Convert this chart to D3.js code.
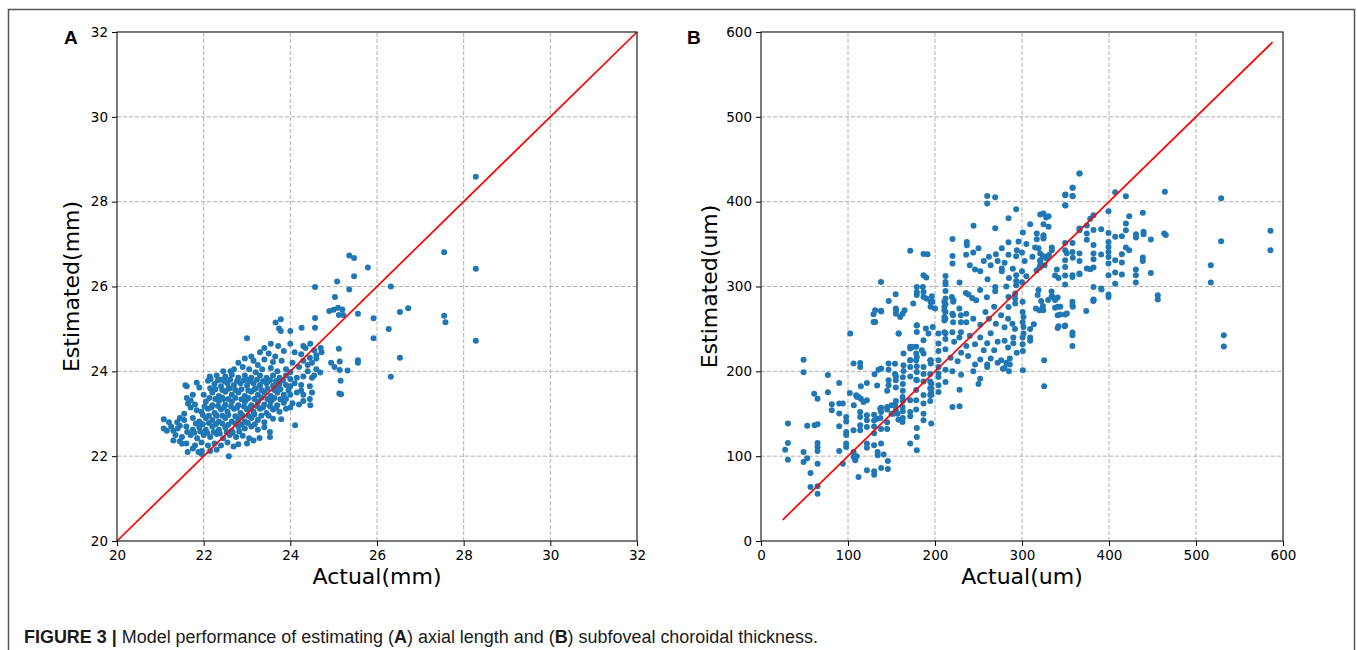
<!DOCTYPE html>
<html>
<head>
<meta charset="utf-8">
<script src="https://cdn.jsdelivr.net/npm/d3@7.9.0/dist/d3.min.js"></script>
<style>
  html, body { margin: 0; padding: 0; background: #fff; }
  svg { display: block; }
</style>
</head>
<body>
<svg id="fig" width="1357" height="650"></svg>
<script>
// ---- data: [actual, estimated] ----
const ticksA = [20, 22, 24, 26, 28, 30, 32];
const ticksB = [0, 100, 200, 300, 400, 500, 600];
const refLineA = [20, 32];
const refLineB = [25, 588];

const pointsA = [
  // sparse / outliers
  [28.28,28.59],[27.55,26.81],[28.28,26.42],[27.55,25.31],[27.58,25.16],[28.28,24.72],
  [25.36,26.73],[25.47,26.67],[25.79,26.45],[25.47,26.24],[25.08,26.12],[24.57,25.99],[26.32,26.0],[25.36,25.93],[25.03,25.75],[26.72,25.49],[26.53,25.4],
  [24.9,25.42],[25.0,25.45],[25.1,25.5],[25.2,25.46],[25.22,25.33],[25.12,25.33],
  [25.56,25.36],[25.92,25.25],[24.57,25.26],[26.27,25.0],
  [23.78,25.23],[23.66,25.15],[23.74,25.01],[23.78,24.95],[24.0,24.95],[24.26,25.03],[24.57,25.03],
  [25.92,24.78],[23.0,24.78],[26.53,24.32],[26.32,23.87],
  [25.56,24.26],[25.56,24.2],[25.32,24.02],[25.12,24.53],[25.14,24.23],[25.14,24.03],[25.16,23.78],[25.13,23.48],[25.17,23.46],[24.94,24.2],[25.02,24.1],
  [24.69,23.97],[24.46,23.2],[24.11,22.73],[23.79,22.87],[23.53,22.45],[23.53,22.57],[23.29,22.43],[23.15,22.37],
  [22.58,22.0],[22.69,22.23],
  [21.08,22.87],[21.08,22.65],[21.3,22.6],[21.3,22.37],[21.39,22.8],[21.5,22.29],[21.63,22.1],[21.61,23.65],[21.84,23.73],[21.61,23.37],[21.64,23.24],[21.7,23.31],[21.84,23.08],[21.88,22.1],[21.96,22.12],[22.14,23.88],[22.16,23.82],[22.62,24.0],
  [21.58,23.67],[21.45,22.9],[21.55,23.0],[21.7,23.15],[21.75,23.45],[22.1,23.78],
  // upper part of the cloud
  [23.55,24.65],[23.72,24.6],[24.0,24.65],[24.3,24.6],[24.46,24.65],[24.35,24.55],[23.4,24.55],[24.55,24.5],[24.7,24.55],[24.72,24.45],
  [23.3,24.45],[23.5,24.42],[23.85,24.48],[24.1,24.45],[24.25,24.4],[24.6,24.38],[23.1,24.35],[23.65,24.35],[24.45,24.32],
  [22.95,24.3],[23.15,24.25],[23.4,24.28],[23.6,24.22],[23.8,24.25],[24.05,24.2],[24.3,24.25],[24.5,24.2],[22.8,24.2],[23.25,24.15],[24.2,24.1],
  [22.7,24.05],[22.9,24.1],[23.05,24.05],[23.35,24.05],[23.55,24.08],[23.7,24.0],[23.9,24.05],[24.0,23.98],[24.4,24.0],[24.6,24.05],[22.45,24.0],[23.2,23.98],
  [22.3,23.9],[22.5,23.88],[22.65,23.92],[22.8,23.85],[22.95,23.9],[23.1,23.85],[23.3,23.9],[23.45,23.85],[23.6,23.9],[23.75,23.85],[23.9,23.9],[24.0,23.82],[24.15,23.85],[24.3,23.88],[24.5,23.85],[22.4,23.8],[23.0,23.8],[23.5,23.78],
  [21.9,23.62],[22.25,23.7],[22.4,23.65],[22.55,23.72],[22.7,23.68],[22.85,23.72],[23.0,23.66],[23.15,23.72],[23.3,23.68],[23.45,23.72],[23.6,23.66],[23.75,23.7],[23.9,23.68],[24.0,23.65],[24.1,23.72],[24.25,23.68],[24.45,23.65],[22.15,23.6],[22.6,23.6],[23.2,23.6],[23.7,23.6],
  [22.0,23.45],[22.2,23.5],[22.35,23.42],[22.5,23.52],[22.65,23.45],[22.8,23.5],[22.95,23.42],[23.1,23.52],[23.25,23.45],[23.4,23.5],[23.55,23.42],[23.7,23.5],[23.85,23.45],[24.0,23.45],[24.15,23.5],[24.3,23.45],[24.5,23.5],[22.45,23.35],[23.0,23.35],[23.6,23.35],[23.9,23.35],
  [21.8,23.22],[22.05,23.28],[22.2,23.2],[22.35,23.3],[22.5,23.22],[22.65,23.28],[22.8,23.2],[22.95,23.28],[23.1,23.2],[23.25,23.28],[23.4,23.22],[23.55,23.28],[23.7,23.2],[23.85,23.26],[24.05,23.25],[24.2,23.22],[24.0,23.15],
  [21.95,23.05],[22.1,23.12],[22.25,23.02],[22.4,23.1],[22.55,23.05],[22.7,23.12],[22.85,23.02],[23.0,23.1],[23.15,23.05],[23.3,23.12],[23.45,23.02],[23.6,23.1],[23.75,23.05],[23.9,23.12],[22.3,22.95],[22.9,22.95],[23.5,22.95],
  [21.55,22.85],[21.75,22.9],[21.9,22.82],[22.05,22.9],[22.2,22.85],[22.35,22.82],[22.5,22.9],[22.65,22.82],[22.8,22.88],[22.95,22.82],[23.1,22.9],[23.25,22.85],[23.4,22.8],[23.6,22.88],[21.2,22.8],[21.45,22.72],
  [21.25,22.7],[21.4,22.65],[21.6,22.7],[21.75,22.62],[21.9,22.68],[22.05,22.62],[22.2,22.7],[22.35,22.62],[22.5,22.68],[22.65,22.6],[22.8,22.7],[22.95,22.65],[23.1,22.7],[23.25,22.62],[23.4,22.68],[21.15,22.6],
  [21.35,22.5],[21.5,22.45],[21.7,22.5],[21.85,22.42],[22.0,22.5],[22.15,22.45],[22.3,22.52],[22.45,22.42],[22.6,22.5],[22.75,22.45],[22.9,22.48],[23.05,22.42],[21.45,22.35],
  [21.6,22.3],[21.8,22.25],[21.95,22.32],[22.1,22.25],[22.25,22.3],[22.4,22.25],[22.55,22.32],[22.8,22.28],[23.0,22.3],
  [21.75,22.18],[21.95,22.05],[22.15,22.12],[22.3,22.15],
  [24.3,23.3],[24.45,23.35],[24.55,23.9],[24.6,24.3],[24.4,24.15],[24.25,23.55],
  // filling the dense core
  [22.33,23.79],[22.49,23.76],[22.61,23.8],[22.77,23.77],[22.93,23.79],[23.07,23.76],[23.23,23.8],[23.37,23.77],[23.53,23.79],[23.67,23.77],[23.83,23.79],
  [22.27,23.58],[22.43,23.56],[22.57,23.59],[22.73,23.56],[22.87,23.58],[23.03,23.55],[23.17,23.58],[23.33,23.56],[23.47,23.59],[23.63,23.56],[23.77,23.58],[23.96,23.55],
  [22.13,23.37],[22.27,23.35],[22.43,23.38],[22.57,23.35],[22.73,23.37],[22.87,23.34],[23.03,23.37],[23.17,23.35],[23.33,23.38],[23.47,23.35],[23.63,23.37],[23.77,23.34],
  [22.02,23.17],[22.18,23.15],[22.33,23.18],[22.47,23.15],[22.63,23.17],[22.77,23.14],[22.93,23.17],[23.07,23.15],[23.23,23.18],[23.37,23.15],[23.53,23.17],[23.67,23.14],
  [21.98,22.97],[22.12,22.95],[22.28,22.98],[22.43,22.95],[22.57,22.97],[22.73,22.94],[22.87,22.97],[23.03,22.95],[23.17,22.98],[23.33,22.95],
  [21.82,22.77],[21.98,22.75],[22.12,22.78],[22.28,22.75],[22.43,22.77],[22.57,22.74],[22.73,22.77],[22.88,22.75],[23.02,22.78],[23.18,22.75],
  [21.62,22.57],[21.78,22.55],[21.92,22.58],[22.08,22.55],[22.23,22.57],[22.37,22.54],[22.53,22.57],[22.67,22.55],[22.82,22.58]
];

const pointsB = [
  // low values
  [27.8,107.7],[30.9,95.9],[30.9,115.5],[30.9,138.4],
  [48.9,213.8],[48.9,198.9],[48.9,104.9],[48.9,93.2],[53.1,97.5],[53.1,136],
  [56.9,80.2],[56.9,63.7],[61.5,136.4],[61.1,173.7],[65,167.8],[65,137.6],[65,115.6],[65,110.8],[65,106.1],[65,91.2],[65,64.5],[65,55.8],
  [76.9,195.8],[76.9,175.3],[81.4,161.2],[81.4,154.1],[89.9,186.3],[89.9,162],[89.9,150.2],[89.9,135.2],[89.9,106.1],[94.1,162],[94.1,91.2],
  [97.9,146.2],[97.9,141],[97.9,128.5],[97.9,125],[97.9,114.8],[97.9,110.8],
  [102.5,244.5],[102.1,174.5],[106.4,209.1],[106.7,160],[106.4,130.5],[106.4,104.9],[106.4,99],[108.3,95.1],[112.1,75.5],[110,170],[110,100],
  [114,209.9],[114,205.2],[114.8,182.4],[109.4,171.8],[112.1,169.8],[114.8,167.8],[117.8,163.9],[121.7,165.9],[121.7,186.3],
  [114,152.1],[114,146.2],[114,136.4],[114,130.5],[121.7,148.2],[121.7,142.3],[121.7,134.4],[121.7,83.3],[130.1,82.1],[130.1,78.2],[138.1,86.1],[145.8,84.9],[145.8,94.3],
  [121.7,115],[121.7,110],[130,113],[134,105],[138,115],[130,148.9],[130,142],[133.5,144],[137.3,145],[138,157],[138,152],[130,127],[130,135],[138,132],[145,140],[145,132],[141,102],[134,101],
  [130.5,196.5],[133.5,183.2],[138.1,203.2],[135,202],[146.6,209.1],[146.6,202],[146.6,189.5],[146.6,183.6],[155,194.2],[155,189.5],[155,180.8],
  [163.8,220.9],[163.8,207.1],[163.8,200.5],[158.1,244.5],[171.5,213],[171.5,226.8],[174.2,228.8],[179.1,217],[179.1,206],[179.1,199.3],[179.1,189.5],
  [179.1,254.3],[179.1,246.5],[189.5,250.4],[192.5,244.5],[186.8,236.6],[184.9,224.8],[186.8,220.9],[195.2,209.1],[195.2,213],[195.6,185.5],[195.6,180],[195.6,175],[195.6,172],
  [204,232.7],[204,213],[204,193.4],[204,183.6],[204,175.7],[162.7,169.8],[162.7,158],[155,154.1],[162.7,140.3],[171.5,152.1],[171.5,147],
  [179.1,133.2],[179.1,122.6],[179.1,106.9],[171.5,114.8],[186.8,142.3],[195.6,138.4],[150,160],[155,165],[145,158],[150,150],[158,143],
  [131.2,272],[131.2,258.3],[138.1,270.4],[155,274],[155,268],[160,264],[165,272],[175,280],[179,290],[190,286],[197,282],[200,274],
  [137.9,305.4],[154.8,290.9],[129.4,267.3],[129.4,258.2],[137.9,271.3],[146.8,283],[155.3,272],[162.7,268],[158.3,244.5],[179,254],[197.4,252.3],[203.9,244.5],
  [194.9,282],[194.9,276],[210.8,282],[210.8,276],[210.8,272],[210.8,264],[210.8,260],[210.8,246],[220.8,282],[220.8,266],[220.8,258],[229.8,266],[229.8,258],[229.8,246],
  // middle
  [260,406.8],[260,397.8],[269.2,405.3],[293.3,391.1],[284.5,380.5],[244.3,371.5],[269.2,368.7],[220.1,356.1],[236.6,352.6],[236.6,348.7],[235.8,337.3],[220.1,336.1],[220.1,327.1],
  [171.5,342],[186.8,338.4],[191.4,338],[186.8,313.3],[189.9,310.5],[179.1,299.5],[186,299.5],[179.1,293.6],[186.8,293.6],[186.8,287.7],[196.4,288.5],
  [212.1,312.5],[212.1,305.4],[212.1,302.7],[228.2,304.6],[212.1,294.8],[212.1,285.8],[212.1,279.1],[219.4,287.7],[221.3,283.8],
  [235.5,292.4],[238.5,290.5],[242.7,286.5],[247.3,283.8],[251.9,296],[260.4,308.6],[269.2,299.5],[269.2,294.4],[259.6,287.3],
  [276.8,345.1],[276.8,321.1],[276.8,318],[284.5,352.2],[284.5,337.3],[294.1,342.8],[293.3,335.7],[289.5,320.8],[293.3,313.3],[293.3,306.6],[293.3,301.5],
  [292.2,291.7],[292.2,285.8],[292.2,279.9],[284.5,287.7],[284.5,275.9],
  [301,363.6],[309.4,373.4],[317,362.4],[317,355.7],[315.1,345.9],[319,345.1],[320.9,338.9],[324.7,386],[324.7,373.4],[327.8,381.3],[330.5,382.9],[324.7,360.5],[324.7,356.5],[334.3,345.9],[334.3,342.8],
  [324,336],[328,335],[331,337],[321,330],[321,325],[326,325],[320,322],[316.7,318.8],[312,335],
  [349.6,407.6],[358,416.3],[358,406.8],[349.6,395.8],[366.1,433.2],[358,351.4],[358,340.8],[349.6,342.8],[351.5,338.9],[349.6,331],[349.6,323.1],[366,368.3],[366,315.2],[358,313.3],[358,311.3],
  [340,320],[338,313],[342,310],
  [240,325],[246,320],[252,318],[256,330],[262,335],[264,325],[250,345],[244,340],[270,338],[272,330],[280,328],[285,310],[282,300],[300,318],[305,312],[300,305],[303,330],[300,340],[305,350],[296,353],
  // lower middle
  [319,296],[318,290],[322,283],[324,277],[324.5,272],[334,294],[334,288],[338,284],[344,276],
  [351.5,268.1],[344,267],[342,253],[349,253],[358,245.7],[358,230],[358,242.5],[358,278],[358,282],[373.8,271.2],[382,283],
  [325.5,213],[325.5,182.4],[301,224],[301,201.3],[301.7,244.5],[301.7,252.3],[301.7,264.1],[300.7,232],[300.7,240],[300.7,258],[300.7,270],[300.7,282],[309.4,250],[309.4,240],[309.4,236],[313.6,255.4],[316,274],[320,272],
  [251.9,191.4],[228.2,178.4],[220.1,158],[228.2,158.8],[212.1,202],[212.1,187.5],[204,205.2],[204,197.3],
  [194.5,213],[194.5,197],[194.5,188],[194.5,180],[194.5,172],[194.5,165],
  [186.8,205],[186.8,197],[186.8,188],[186.8,172],[186.8,162],[186.8,150],
  [178.4,229],[178.4,221],[178.4,213],[178.4,190],[178.4,178],[178.4,166],[178.4,155],
  [171.5,229],[171.5,213],[171.5,205],[171.5,194],[171.5,166],
  [163,193],[163,185],[163,177],[163,165],[163,153],[163,145],
  [154,209],[154,197],[154,160],[157,150],[152,150],[145,155],[137,156],[145,177],
  [212,270],[212,262],[220,268],[228,274],[236,268],[236,258],[244,262],[252,255],[258,270],[262,262],[268,276],[270,256],[276,266],[280,252],[284,262],[289,256],[292,250],[290,240],
  [212,245],[212,238],[220,246],[222,235],[228,240],[236,230],[240,242],[246,232],[252,240],[256,225],[260,233],[264,245],[268,225],[272,235],[276,213],[280,236],[284,228],[286,215],[290,233],[294,222],
  [204,224],[212,226],[218,216],[226,212],[230,222],[238,218],[246,208],[252,214],[260,205],[264,215],[272,210],[280,204],[286,208],
  [220,200],[230,196],[244,200],[250,185],[260,208],[278,203],[282,210],[285,200],
  // high values
  [366.1,433.2],[358.4,416.3],[358.4,406.4],[350,408.4],[350,395.4],[407.1,411.2],[419.4,406.4],[464.2,411.6],[528.9,404.1],[585.6,365.6],[585.6,342.8],[528.9,353.4],[517,325.1],[517,304.6],[532,242.5],[532,229.2],[456.1,289.7],[456.1,284.6],
  [438.9,386.8],[423.2,382.9],[419.4,374.2],[419.4,366.3],[463.4,362.4],[465.3,360.8],[448.1,355.3],[439.7,364.4],[439.7,361.6],[431,361.6],[431,357.7],[438.9,334.1],[438.9,330.2],[430.9,320],[430.9,313.3],[430.9,304.6],[448.1,316],[423.2,342.8],[419.4,345.9],
  [414.8,359.3],[414.8,338],[414.8,328.2],[414.8,314.1],[407.1,358.5],[407.1,331],[407.1,316.4],[407.1,303.1],
  [399.4,388.8],[399.4,363.2],[399.4,352.6],[399.4,346.7],[399.4,340.8],[399.4,334.9],[399.4,327.1],[399.4,313.3],[399.4,290.5],[399.4,287.7],
  [391,367.5],[391,337.6],[391,297.6],[382.2,384],[382.2,366.7],[382.2,349],[382.2,338.9],[382.2,332.2],[382.2,322.3],[382.2,299.5],[382.2,283.8],
  [378.4,380],[374.5,372],[374.5,362.4],[374.5,355],[374.5,321.1],[378.4,320.3],
  [366.1,366.3],[366.1,338.9],[366.1,330.2],[366.1,314.5],[358.4,334],[358.4,276],
  [349.6,351.4],[349.6,313],[349.6,302.5],[349.6,267],[349.6,254],[341,266],[341,251],[341,276],[341,287],[335,288],[330,284],[338,275],
  [391.4,296.4],[382.2,284.6],
  [320.9,331],[320.9,323],[324.7,335],[328.6,333],[320.9,385],[330.5,370.3],[324.7,358.5]
];

// ---- layout ----
const blue = '#1f77b4';
const svg = d3.select('#fig');

// outer frame of the figure
svg.append('rect')
  .attr('x', 8.5).attr('y', 9.5)
  .attr('width', 1346).attr('height', 700)
  .attr('fill', 'none')
  .attr('stroke', '#555')
  .attr('stroke-width', 1.5);

function drawPanel(opts) {
  const { x, y, ticks, points, refLine, xLabel, yLabel, yLabelGap, letter, letterX } = opts;
  const g = svg.append('g');
  const [x0, x1] = x.range();
  const [y0, y1] = y.range();

  // grid
  g.append('g').selectAll('line').data(ticks.slice(1, -1)).join('line')
    .attr('x1', d => x(d)).attr('x2', d => x(d))
    .attr('y1', y0).attr('y2', y1)
    .attr('stroke', '#b0b0b0').attr('stroke-width', 1)
    .attr('stroke-dasharray', '4,2');
  g.append('g').selectAll('line').data(ticks.slice(1, -1)).join('line')
    .attr('y1', d => y(d)).attr('y2', d => y(d))
    .attr('x1', x0).attr('x2', x1)
    .attr('stroke', '#b0b0b0').attr('stroke-width', 1)
    .attr('stroke-dasharray', '4,2');

  // scatter
  g.append('g').selectAll('circle').data(points).join('circle')
    .attr('cx', d => x(d[0]))
    .attr('cy', d => y(d[1]))
    .attr('r', 3)
    .attr('fill', blue);

  // identity line
  g.append('line')
    .attr('x1', x(refLine[0])).attr('y1', y(refLine[0]))
    .attr('x2', x(refLine[1])).attr('y2', y(refLine[1]))
    .attr('stroke', 'red').attr('stroke-width', 1.7);

  // axes
  const ax = g.append('g')
    .attr('transform', `translate(0,${y0})`)
    .call(d3.axisBottom(x).tickValues(ticks).tickSize(5).tickPadding(4).tickSizeOuter(0));
  const ay = g.append('g')
    .attr('transform', `translate(${x0},0)`)
    .call(d3.axisLeft(y).tickValues(ticks).tickSize(5).tickPadding(4).tickSizeOuter(0));
  [ax, ay].forEach(a => {
    a.select('.domain').remove();
    a.selectAll('text').attr('font-family', 'DejaVu Sans').attr('font-size', 13.5).attr('fill', '#000');
    a.selectAll('line').attr('stroke', '#000');
  });

  // spines
  g.append('rect')
    .attr('x', x0).attr('y', y1)
    .attr('width', x1 - x0).attr('height', y0 - y1)
    .attr('fill', 'none').attr('stroke', '#222').attr('stroke-width', 1.2);

  // labels
  g.append('text')
    .attr('x', (x0 + x1) / 2).attr('y', 584)
    .attr('text-anchor', 'middle')
    .attr('font-family', 'DejaVu Sans').attr('font-size', 22)
    .text(xLabel);
  g.append('text')
    .attr('transform', `translate(${x0 - yLabelGap},${(y0 + y1) / 2}) rotate(-90)`)
    .attr('text-anchor', 'middle')
    .attr('font-family', 'DejaVu Sans').attr('font-size', 22)
    .text(yLabel);
  g.append('text')
    .attr('x', letterX).attr('y', 44)
    .attr('font-family', 'Liberation Sans, Arial, sans-serif')
    .attr('font-weight', 'bold').attr('font-size', 19)
    .text(letter);
}

drawPanel({
  x: d3.scaleLinear().domain([20, 32]).range([117, 637]),
  y: d3.scaleLinear().domain([20, 32]).range([541, 32]),
  ticks: ticksA, points: pointsA, refLine: refLineA,
  xLabel: 'Actual(mm)', yLabel: 'Estimated(mm)', yLabelGap: 38, letter: 'A', letterX: 64
});

drawPanel({
  x: d3.scaleLinear().domain([0, 600]).range([761, 1283]),
  y: d3.scaleLinear().domain([0, 600]).range([541, 32]),
  ticks: ticksB, points: pointsB, refLine: refLineB,
  xLabel: 'Actual(um)', yLabel: 'Estimated(um)', yLabelGap: 44, letter: 'B', letterX: 687
});

// caption
const cap = svg.append('text')
  .attr('x', 24).attr('y', 643)
  .attr('font-family', 'Liberation Sans Narrow, Liberation Sans, Arial, sans-serif')
  .attr('font-size', 18)
  .attr('fill', '#1a1a1a')
  .attr('textLength', 794)
  .attr('lengthAdjust', 'spacingAndGlyphs');
cap.append('tspan').attr('font-weight', 'bold').text('FIGURE 3 | ');
cap.append('tspan').text('Model performance of estimating (');
cap.append('tspan').attr('font-weight', 'bold').text('A');
cap.append('tspan').text(') axial length and (');
cap.append('tspan').attr('font-weight', 'bold').text('B');
cap.append('tspan').text(') subfoveal choroidal thickness.');
</script>
</body>
</html>
